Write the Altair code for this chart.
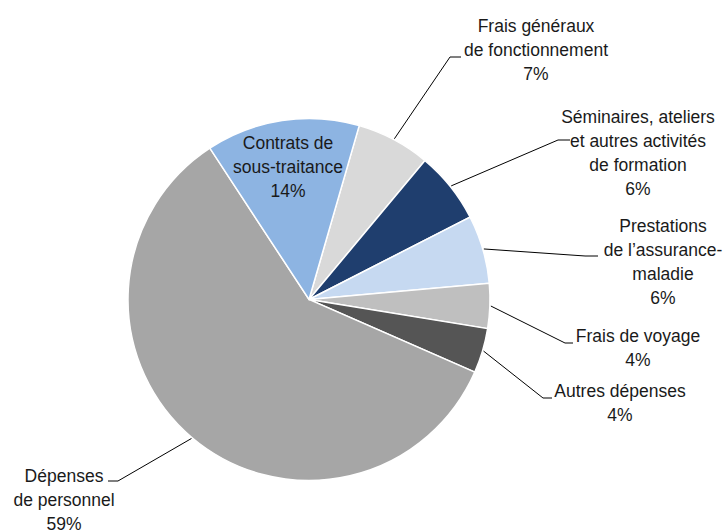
import math
import altair as alt
import pandas as pd

# ---------------- data ----------------
categories = [
    "Frais généraux de fonctionnement",
    "Séminaires, ateliers et autres activités de formation",
    "Prestations de l’assurance-maladie",
    "Frais de voyage",
    "Autres dépenses",
    "Dépenses de personnel",
    "Contrats de sous-traitance",
]
values = [6.6, 6.4, 6.1, 4.0, 4.0, 59.2, 13.7]
pct_labels = ["7%", "6%", "6%", "4%", "4%", "59%", "14%"]
name_lines = [
    ["Frais généraux", "de fonctionnement"],
    ["Séminaires, ateliers", "et autres activités", "de formation"],
    ["Prestations", "de l’assurance-", "maladie"],
    ["Frais de voyage"],
    ["Autres dépenses"],
    ["Dépenses", "de personnel"],
    ["Contrats de", "sous-traitance"],
]

# ---------------- style / layout ----------------
colors = ["#d9d9d9", "#1f3e6e", "#c6d9f1", "#bfbfbf", "#555555", "#a6a6a6", "#8db4e2"]
W, H = 728, 530
CX, CY = 309, 299.5
R = 181
ROT_DEG = 16.1
FONT = "Liberation Sans, Arial, sans-serif"
# label anchor (center x, first baseline y) and leader elbow (x, y, end x)
text_pos = [(536, 32), (638, 123), (663, 232), (638, 342), (620, 397), (64, 482), (288, 149)]
elbows = [(450, 57, 461), (558, 140, 570), (585, 256, 598), (565, 343, 573),
          (543, 398, 552), (118, 481, 108), None]

total = sum(values)
rot = math.radians(ROT_DEG)

df = pd.DataFrame({"cat": categories, "value": values, "idx": list(range(len(values)))})

lab_rows = []
seg_rows = []
cum = 0.0
for i, v in enumerate(values):
    mid = rot + 2 * math.pi * (cum + v / 2) / total
    cum += v
    tx, ty = text_pos[i]
    lab_rows.append({"tx": tx, "ty": ty, "txt": "\n".join(name_lines[i] + [pct_labels[i]])})
    if elbows[i] is not None:
        sx = CX + (R + 1) * math.sin(mid)
        sy = CY - (R + 1) * math.cos(mid)
        ex, ey, endx = elbows[i]
        seg_rows.append({"x": sx, "y": sy, "x2": ex, "y2": ey})
        seg_rows.append({"x": ex, "y": ey, "x2": endx, "y2": ey})

lab_df = pd.DataFrame(lab_rows)
seg_df = pd.DataFrame(seg_rows)

xs = alt.Scale(domain=[0, W], range=[0, W])
ys = alt.Scale(domain=[H, 0])

pie = alt.Chart(df).mark_arc(outerRadius=R, stroke="white", strokeWidth=1.5).encode(
    theta=alt.Theta("value:Q", stack=True,
                    scale=alt.Scale(domain=[0, total], range=[rot, rot + 2 * math.pi])),
    color=alt.Color("cat:N", scale=alt.Scale(domain=categories, range=colors), legend=None),
    order=alt.Order("idx:Q", sort="ascending"),
    x=alt.value(CX),
    y=alt.value(CY),
)

leaders = alt.Chart(seg_df).mark_rule(color="black", strokeWidth=1).encode(
    x=alt.X("x:Q", scale=xs, axis=None),
    y=alt.Y("y:Q", scale=ys, axis=None),
    x2="x2:Q",
    y2="y2:Q",
)

labels = alt.Chart(lab_df).mark_text(
    lineBreak="\n", align="center", baseline="alphabetic",
    font=FONT, fontSize=17.5, lineHeight=24, color="#1a1a1a",
).encode(
    x=alt.X("tx:Q", scale=xs, axis=None),
    y=alt.Y("ty:Q", scale=ys, axis=None),
    text="txt:N",
)

chart = alt.layer(pie, leaders, labels).properties(
    width=W, height=H, padding=0,
    autosize=alt.AutoSizeParams(type="none"),
    background="white",
).configure_view(stroke=None)

chart.save("out.html", embed_options={"renderer": "svg", "actions": False})
